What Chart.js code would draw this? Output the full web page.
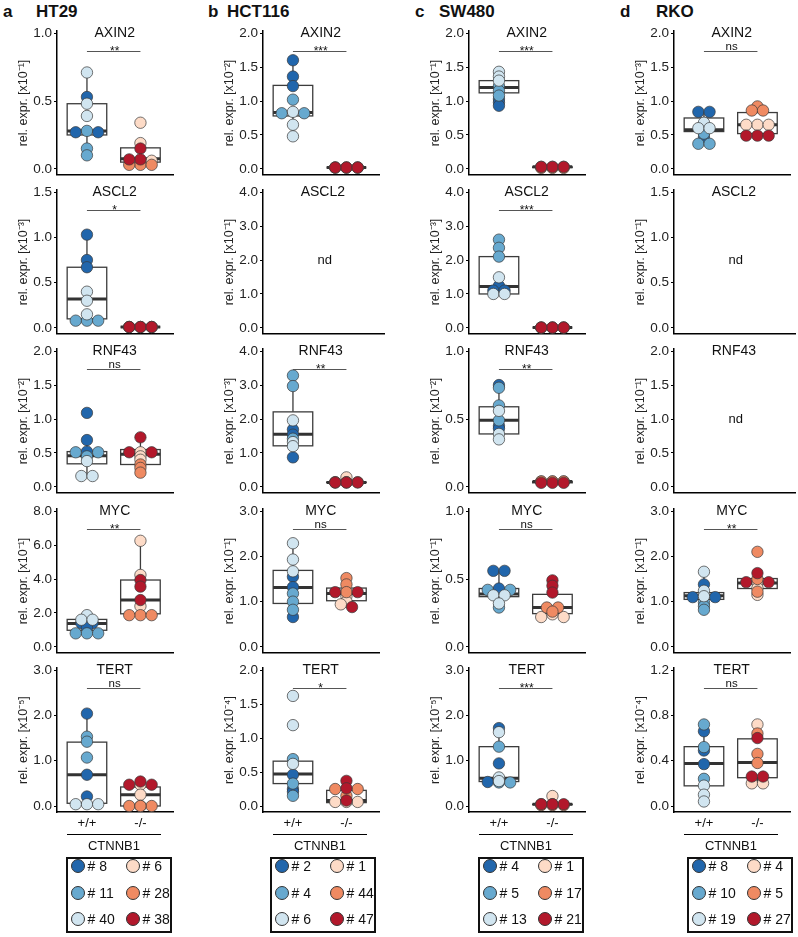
<!DOCTYPE html>
<html>
<head>
<meta charset="utf-8">
<script src="https://cdn.jsdelivr.net/npm/chart.js@4.4.1/dist/chart.umd.min.js"></script>
<style>
  body { margin: 0; background: #fff; font-family: "Liberation Sans", Arial, Helvetica, sans-serif; color: #111; }
  #fig { position: relative; width: 798px; height: 937px; overflow: hidden; }
  #fig canvas { position: absolute; }
  .hdr { position: absolute; top: 2px; font-weight: bold; font-size: 17px; line-height: 20px; }
  .xgroup { position: absolute; top: 834px; width: 94px; border-top: 1.5px solid #000; text-align: center; font-size: 13px; padding-top: 3px; }
  .legend { position: absolute; top: 857px; width: 102px; height: 72px; border: 2px solid #111; }
  .item { position: absolute; height: 16px; display: flex; align-items: center; font-size: 14px; white-space: nowrap; }
  .dot { display: inline-block; width: 12px; height: 12px; border-radius: 50%; border: 1px solid #333; margin-right: 3px; }
</style>
</head>
<body>
<div id="fig"></div>
<script>
// ---------------------------------------------
//  DATA
// ---------------------------------------------
const GENES = ['AXIN2', 'ASCL2', 'RNF43', 'MYC', 'TERT'];
const GROUPS = ['+/+', '-/-'];
// clone colours: 3 wild-type clones, then 3 knockout clones
const PALETTE = ['#2166ac', '#67a9cf', '#d1e5f0', '#fddbc7', '#ef8a62', '#b2182b'];

// each panel: six clone arrays (+/+ x3, -/- x3); boxes: [low, q1, median, q3, high] per group
// ---- HT29 ----
const HT29_CLONES = ['# 8', '# 11', '# 40', '# 6', '# 28', '# 38'];
const HT29_YMAX = [1.0, 1.5, 2.0, 8.0, 3.0];
const HT29_STEP = [0.5, 0.5, 0.5, 2.0, 1.0];
const HT29_EXP = [-1, -3, -2, -1, -5];
const HT29_SIG = ['**', '*', 'ns', '**', 'ns'];
const HT29_AXIN2 = [[0.53, 0.27, 0.27], [0.28, 0.15, 0.10], [0.71, 0.48, 0.39], [0.34, 0.19, 0.06], [0.03, 0.03, 0.03], [0.15, 0.07, 0.07]];
const HT29_AXIN2_BOX = [[0.10, 0.25, 0.28, 0.48, 0.71], [0.03, 0.05, 0.075, 0.155, 0.19]];
const HT29_ASCL2 = [[1.03, 0.75, 0.67], [0.08, 0.08, 0.08], [0.40, 0.30, 0.15], [0.01, 0.01, 0.01], [0.01, 0.01, 0.01], [0.01, 0.01, 0.01]];
const HT29_ASCL2_BOX = [[0.08, 0.10, 0.32, 0.67, 1.03], [0.01, 0.01, 0.01, 0.01, 0.01]];
const HT29_RNF43 = [[1.09, 0.69, 0.52], [0.51, 0.51, 0.45], [0.38, 0.16, 0.16], [0.51, 0.45, 0.40], [0.33, 0.28, 0.21], [0.73, 0.51, 0.51]];
const HT29_RNF43_BOX = [[0.16, 0.34, 0.46, 0.52, 0.69], [0.21, 0.33, 0.48, 0.55, 0.73]];
const HT29_MYC = [[1.40, 1.40, 1.15], [0.80, 0.80, 0.80], [1.87, 1.60, 1.60], [6.25, 4.24, 2.40], [1.87, 1.87, 1.87], [3.94, 3.55, 2.76]];
const HT29_MYC_BOX = [[0.80, 0.98, 1.38, 1.62, 1.87], [1.87, 1.95, 2.76, 3.94, 6.25]];
const HT29_TERT = [[2.04, 0.69, 0.21], [1.53, 1.42, 1.07], [0.04, 0.04, 0.04], [0.25, 0.47, 0.00], [0.00, 0.00, 0.00], [0.54, 0.47, 0.47]];
const HT29_TERT_BOX = [[0.04, 0.06, 0.69, 1.41, 2.04], [0.00, 0.00, 0.25, 0.42, 0.54]];

// ---- HCT116 ----
const HCT116_CLONES = ['# 2', '# 4', '# 6', '# 1', '# 44', '# 47'];
const HCT116_YMAX = [2.0, 4.0, 4.0, 3.0, 2.0];
const HCT116_STEP = [0.5, 1.0, 1.0, 1.0, 0.5];
const HCT116_EXP = [-2, -1, -3, -1, -4];
const HCT116_SIG = ['***', '', '**', 'ns', '*'];
const HCT116_AXIN2 = [[1.60, 1.36, 1.22], [1.02, 0.82, 0.82], [0.84, 0.65, 0.48], [0.02, 0.02, 0.02], [0.02, 0.02, 0.02], [0.02, 0.02, 0.02]];
const HCT116_AXIN2_BOX = [[0.48, 0.78, 0.83, 1.23, 1.60], [0.02, 0.02, 0.02, 0.02, 0.02]];
const HCT116_RNF43 = [[1.69, 1.54, 0.87], [3.28, 2.97, 1.42], [1.96, 1.32, 1.20], [0.28, 0.13, 0.13], [0.14, 0.14, 0.14], [0.13, 0.13, 0.13]];
const HCT116_RNF43_BOX = [[0.87, 1.21, 1.55, 2.21, 3.28], [0.13, 0.13, 0.13, 0.14, 0.14]];
const HCT116_MYC = [[1.55, 1.32, 0.66], [1.18, 1.00, 0.82], [2.29, 1.93, 1.67], [1.12, 1.00, 0.94], [1.52, 1.38, 1.21], [1.21, 1.21, 0.88]];
const HCT116_MYC_BOX = [[0.66, 0.96, 1.31, 1.69, 2.29], [0.88, 1.02, 1.18, 1.30, 1.52]];
const HCT116_TERT = [[0.46, 0.25, 0.21], [0.69, 0.33, 0.15], [1.62, 1.19, 0.62], [0.06, 0.06, 0.06], [0.25, 0.25, 0.15], [0.37, 0.26, 0.08]];
const HCT116_TERT_BOX = [[0.15, 0.33, 0.47, 0.66, 0.69], [0.05, 0.05, 0.08, 0.23, 0.37]];

// ---- SW480 ----
const SW480_CLONES = ['# 4', '# 5', '# 13', '# 1', '# 17', '# 21'];
const SW480_YMAX = [2.0, 4.0, 1.0, 1.0, 3.0];
const SW480_STEP = [0.5, 1.0, 0.5, 0.5, 1.0];
const SW480_EXP = [-1, -3, -2, -1, -5];
const SW480_SIG = ['***', '***', '**', 'ns', '***'];
const SW480_AXIN2 = [[1.03, 0.98, 0.93], [1.22, 1.15, 1.08], [1.43, 1.36, 1.30], [0.03, 0.03, 0.03], [0.015, 0.015, 0.015], [0.03, 0.03, 0.03]];
const SW480_AXIN2_BOX = [[0.93, 1.12, 1.20, 1.30, 1.43], [0.02, 0.02, 0.03, 0.03, 0.03]];
const SW480_ASCL2 = [[1.24, 1.10, 1.10], [2.60, 2.36, 2.10], [1.49, 1.00, 1.00], [0.01, 0.01, 0.01], [0.01, 0.01, 0.01], [0.01, 0.01, 0.01]];
const SW480_ASCL2_BOX = [[1.00, 1.00, 1.22, 2.10, 2.60], [0.01, 0.01, 0.01, 0.01, 0.01]];
const SW480_RNF43 = [[0.75, 0.45, 0.43], [0.73, 0.60, 0.49], [0.56, 0.39, 0.35], [0.04, 0.04, 0.04], [0.04, 0.04, 0.04], [0.03, 0.03, 0.03]];
const SW480_RNF43_BOX = [[0.35, 0.39, 0.49, 0.59, 0.75], [0.03, 0.03, 0.04, 0.04, 0.04]];
const SW480_MYC = [[0.56, 0.56, 0.43], [0.42, 0.42, 0.29], [0.38, 0.38, 0.32], [0.24, 0.22, 0.22], [0.29, 0.29, 0.26], [0.49, 0.45, 0.40]];
const SW480_MYC_BOX = [[0.29, 0.37, 0.39, 0.43, 0.56], [0.22, 0.245, 0.29, 0.387, 0.49]];
const SW480_TERT = [[1.72, 0.94, 0.53], [1.31, 0.52, 0.52], [1.63, 0.63, 0.55], [0.22, 0.04, 0.04], [0.02, 0.02, 0.02], [0.04, 0.04, 0.04]];
const SW480_TERT_BOX = [[0.52, 0.54, 0.61, 1.31, 1.72], [0.02, 0.03, 0.04, 0.04, 0.04]];

// ---- RKO ----
const RKO_CLONES = ['# 8', '# 10', '# 19', '# 4', '# 5', '# 27'];
const RKO_YMAX = [2.0, 1.5, 2.0, 3.0, 1.2];
const RKO_STEP = [0.5, 0.5, 0.5, 1.0, 0.4];
const RKO_EXP = [-3, -1, -1, -1, -4];
const RKO_SIG = ['ns', '', '', '**', 'ns'];
const RKO_AXIN2 = [[0.84, 0.84, 0.47], [0.37, 0.37, 0.52], [0.68, 0.60, 0.60], [0.65, 0.65, 0.65], [0.92, 0.86, 0.86], [0.49, 0.49, 0.49]];
const RKO_AXIN2_BOX = [[0.37, 0.55, 0.575, 0.75, 0.84], [0.49, 0.52, 0.65, 0.83, 0.92]];
const RKO_MYC = [[1.38, 1.10, 1.10], [0.98, 0.90, 0.82], [1.66, 1.24, 1.12], [1.43, 1.30, 1.15], [2.10, 1.50, 1.22], [1.63, 1.43, 1.43]];
const RKO_MYC_BOX = [[0.82, 1.05, 1.13, 1.20, 1.66], [1.15, 1.29, 1.41, 1.51, 1.63]];
const RKO_TERT = [[0.66, 0.49, 0.37], [0.72, 0.52, 0.24], [0.18, 0.10, 0.04], [0.72, 0.20, 0.20], [0.64, 0.46, 0.38], [0.60, 0.26, 0.26]];
const RKO_TERT_BOX = [[0.04, 0.178, 0.376, 0.524, 0.72], [0.20, 0.25, 0.385, 0.593, 0.72]];

// ---------------------------------------------
//  LAYOUT
// ---------------------------------------------
const FONT = '"Liberation Sans", Arial, Helvetica, sans-serif';
Chart.defaults.font.family = FONT;

const COLUMNS = [
  { letter: 'a', line: 'HT29', clones: HT29_CLONES, yMax: HT29_YMAX, step: HT29_STEP, exp: HT29_EXP, sig: HT29_SIG,
    points: [HT29_AXIN2, HT29_ASCL2, HT29_RNF43, HT29_MYC, HT29_TERT],
    boxes: [HT29_AXIN2_BOX, HT29_ASCL2_BOX, HT29_RNF43_BOX, HT29_MYC_BOX, HT29_TERT_BOX] },
  { letter: 'b', line: 'HCT116', clones: HCT116_CLONES, yMax: HCT116_YMAX, step: HCT116_STEP, exp: HCT116_EXP, sig: HCT116_SIG,
    points: [HCT116_AXIN2, null, HCT116_RNF43, HCT116_MYC, HCT116_TERT],
    boxes: [HCT116_AXIN2_BOX, null, HCT116_RNF43_BOX, HCT116_MYC_BOX, HCT116_TERT_BOX] },
  { letter: 'c', line: 'SW480', clones: SW480_CLONES, yMax: SW480_YMAX, step: SW480_STEP, exp: SW480_EXP, sig: SW480_SIG,
    points: [SW480_AXIN2, SW480_ASCL2, SW480_RNF43, SW480_MYC, SW480_TERT],
    boxes: [SW480_AXIN2_BOX, SW480_ASCL2_BOX, SW480_RNF43_BOX, SW480_MYC_BOX, SW480_TERT_BOX] },
  { letter: 'd', line: 'RKO', clones: RKO_CLONES, yMax: RKO_YMAX, step: RKO_STEP, exp: RKO_EXP, sig: RKO_SIG,
    points: [RKO_AXIN2, null, null, RKO_MYC, RKO_TERT],
    boxes: [RKO_AXIN2_BOX, null, null, RKO_MYC_BOX, RKO_TERT_BOX] }
];

const AXIS_X = [57, 263, 469, 674];           // x of each column's y-axis line
const HEAD_X = [[3, 36], [208, 227], [415, 439], [620, 656]];
const LEGEND_X = [66, 270, 478, 687];
const rowTop = r => 33 + 159.2 * r;            // y of the top tick of each row
const PANEL_H = 136;                            // pixels from 0 to top tick
const X_MIN = 0.44, X_MAX = 2.62;
const SPACING = 0.21;                           // dodge step, x units
const BOX_HALF = 0.37;

const SUP = { '-': '\u207b', '0': '\u2070', '1': '\u00b9', '2': '\u00b2', '3': '\u00b3', '4': '\u2074', '5': '\u2075', '6': '\u2076', '7': '\u2077', '8': '\u2078', '9': '\u2079' };
const sup = n => String(n).split('').map(ch => SUP[ch]).join('');

// spread tied values sideways, like a small beeswarm
function buildDatasets(pts, M) {
  const tol = 0.02 * M;
  const sets = pts.map(() => []);
  [0, 1].forEach(g => {
    const list = [];
    for (let c = g * 3; c < g * 3 + 3; c++) pts[c].forEach(v => list.push({ v, c }));
    list.sort((a, b) => b.v - a.v);
    const bins = [];
    list.forEach(p => {
      const last = bins[bins.length - 1];
      if (last && last[0].v - p.v < tol) last.push(p); else bins.push([p]);
    });
    bins.forEach(bin => bin.forEach((p, i) => {
      const pos = bin.length === 2 ? (i === 0 ? -0.5 : 0.5) : [0, -1, 1][i % 3];
      sets[p.c].push({ x: g + 1 + pos * SPACING, y: p.v });
    }));
  });
  // later clones are painted on top (lower "order" draws later)
  return sets.map((data, c) => ({
    data,
    order: sets.length - c,
    pointRadius: 5.7,
    pointHoverRadius: 5.7,
    pointBackgroundColor: PALETTE[c],
    pointBorderColor: '#3a3a3a',
    pointBorderWidth: 0.7
  }));
}

// boxes, panel title, significance bar, "nd"
const panelPlugin = {
  id: 'panel',
  beforeDatasetsDraw(chart, args, o) {
    const { ctx, scales: { x, y } } = chart;
    (o.boxes || []).forEach((b, g) => {
      const cx = x.getPixelForValue(g + 1);
      const hw = x.getPixelForValue(g + 1 + BOX_HALF) - cx;
      const [lo, q1, med, q3, hi] = b.map(v => y.getPixelForValue(v));
      ctx.save();
      ctx.strokeStyle = '#3c3c3c';
      ctx.lineWidth = 1.3;
      ctx.beginPath();
      ctx.moveTo(cx, lo); ctx.lineTo(cx, q1);
      ctx.moveTo(cx, q3); ctx.lineTo(cx, hi);
      ctx.stroke();
      ctx.fillStyle = '#fff';
      ctx.fillRect(cx - hw, q3, 2 * hw, q1 - q3);
      ctx.strokeRect(cx - hw, q3, 2 * hw, q1 - q3);
      ctx.lineWidth = 3;
      ctx.strokeStyle = '#333';
      ctx.beginPath();
      ctx.moveTo(cx - hw, med); ctx.lineTo(cx + hw, med);
      ctx.stroke();
      ctx.restore();
    });
  },
  afterDraw(chart, args, o) {
    const { ctx, scales: { x, y } } = chart;
    const x1 = x.getPixelForValue(1), x2 = x.getPixelForValue(2);
    const cx = (x1 + x2) / 2 + 1;
    const top = y.getPixelForValue(o.yMax);
    ctx.save();
    ctx.fillStyle = '#111';
    ctx.textAlign = 'center';
    ctx.textBaseline = 'middle';
    ctx.font = '14px ' + FONT;
    ctx.fillText(o.gene, cx, top);
    if (o.sig) {
      const by = Math.round(top + 18) + 0.5;
      ctx.strokeStyle = '#555';
      ctx.lineWidth = 1;
      ctx.beginPath(); ctx.moveTo(x1, by); ctx.lineTo(x2, by); ctx.stroke();
      ctx.textBaseline = 'alphabetic';
      if (o.sig === 'ns') { ctx.font = '11.5px ' + FONT; ctx.fillText('ns', cx, by - 2); }
      else { ctx.font = '12px ' + FONT; ctx.fillText(o.sig, cx, by + 3.5); }
    }
    if (o.nd) {
      ctx.font = '13px ' + FONT;
      ctx.textBaseline = 'middle';
      ctx.fillText('nd', cx + 2, y.getPixelForValue(o.yMax / 2));
    }
    ctx.restore();
  }
};

// ---------------------------------------------
//  BUILD THE FIGURE
// ---------------------------------------------
const fig = document.getElementById('fig');

COLUMNS.forEach((col, ci) => {
  const ax = AXIS_X[ci];

  // header
  [col.letter, col.line].forEach((t, k) => {
    const h = document.createElement('div');
    h.className = 'hdr';
    h.style.left = HEAD_X[ci][k] + 'px';
    h.textContent = t;
    fig.appendChild(h);
  });

  GENES.forEach((gene, r) => {
    const isBottom = r === GENES.length - 1;
    const M = col.yMax[r];
    const step = col.step[r];
    const ticks = [];
    for (let k = 0; k * step <= M + 1e-9; k++) ticks.push(Math.round(k * step * 100) / 100);
    const pts = col.points[r];

    const W = 180, H = isBottom ? 178 : 164;
    const cv = document.createElement('canvas');
    cv.width = W; cv.height = H;
    cv.style.width = W + 'px'; cv.style.height = H + 'px';
    cv.style.left = (ax - 57) + 'px';
    cv.style.top = (rowTop(r) - 12) + 'px';
    fig.appendChild(cv);

    new Chart(cv, {
      type: 'scatter',
      data: { datasets: pts ? buildDatasets(pts, M) : [] },
      plugins: [panelPlugin],
      options: {
        responsive: false,
        animation: false,
        devicePixelRatio: 1,
        events: [],
        layout: { padding: { top: 10, right: 2, left: 0, bottom: isBottom ? 2 : 10 } },
        plugins: {
          legend: { display: false },
          tooltip: { enabled: false },
          panel: { gene, yMax: M, sig: col.sig[r], nd: !pts, boxes: col.boxes[r] }
        },
        scales: {
          x: {
            type: 'linear',
            min: X_MIN, max: X_MAX,
            afterBuildTicks: s => { s.ticks = [{ value: 1 }, { value: 2 }]; },
            afterFit: s => { s.height = isBottom ? 22 : 0; },
            ticks: {
              display: isBottom,
              callback: v => GROUPS[v - 1],
              font: { size: 13 }, color: '#111', padding: 4,
              maxRotation: 0, autoSkip: false
            },
            grid: { drawOnChartArea: false, drawTicks: false },
            border: { color: '#000', width: 1.5 }
          },
          y: {
            min: -6 * M / PANEL_H,
            max: M + 2 * M / PANEL_H,
            afterBuildTicks: s => { s.ticks = ticks.map(v => ({ value: v })); },
            afterFit: s => { s.width = 57; },
            ticks: { callback: v => v.toFixed(1), font: { size: 13.5 }, color: '#222', padding: 2 },
            grid: { drawOnChartArea: false, drawTicks: true, tickLength: 3, color: '#000', tickWidth: 1.2 },
            border: { color: '#000', width: 1.5 },
            title: {
              display: true,
              text: 'rel. expr. [x10' + sup(col.exp[r]) + ']',
              font: { size: 12.5 }, color: '#222',
              padding: { top: 16, bottom: 0 }
            }
          }
        }
      }
    });
  });

  // CTNNB1 group label
  const xg = document.createElement('div');
  xg.className = 'xgroup';
  xg.style.left = (ax + 10) + 'px';
  xg.textContent = 'CTNNB1';
  fig.appendChild(xg);

  // legend: wild-type clones left, knockout clones right
  const lg = document.createElement('div');
  lg.className = 'legend';
  lg.style.left = LEGEND_X[ci] + 'px';
  col.clones.forEach((label, c) => {
    const it = document.createElement('div');
    it.className = 'item';
    it.style.left = (c < 3 ? 2.5 : 57.5) + 'px';
    it.style.top = (9 + (c % 3) * 26.5 - 2 - 8) + 'px';
    it.innerHTML = '<span class="dot" style="background:' + PALETTE[c] + '"></span>' + label;
    lg.appendChild(it);
  });
  fig.appendChild(lg);
});
</script>
</body>
</html>
